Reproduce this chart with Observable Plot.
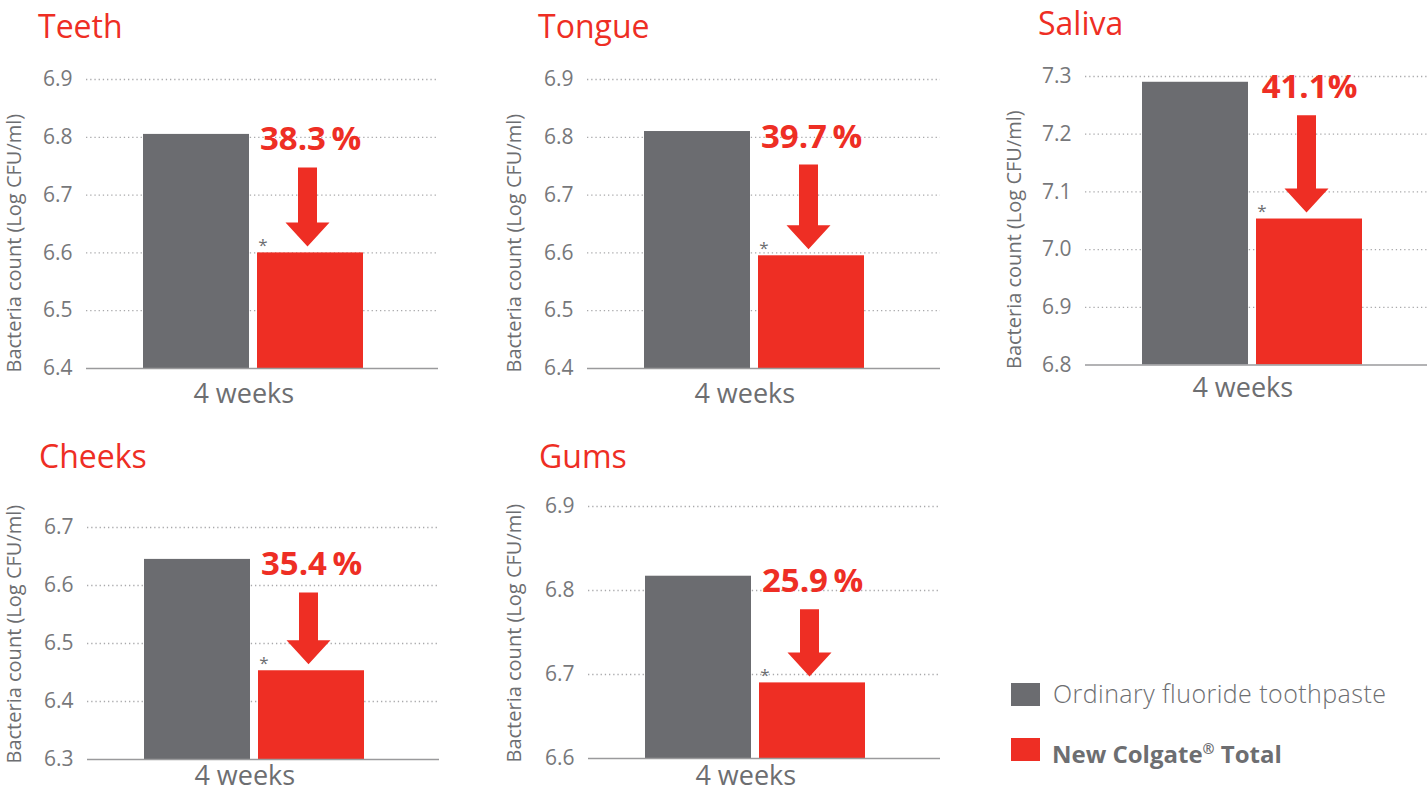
<!DOCTYPE html>
<html>
<head>
<meta charset="utf-8">
<script src="https://cdn.jsdelivr.net/npm/d3@7"></script>
<script src="https://cdn.jsdelivr.net/npm/@observablehq/plot@0.6"></script>
<style>
  html, body { margin: 0; padding: 0; background: #fff; overflow: hidden; }
  #root { position: relative; width: 1427px; height: 792px; overflow: hidden; font-family: "Open Sans", sans-serif; }
  .title { position: absolute; color: #ee2e24; font-size: 32px; line-height: 32px; white-space: nowrap; }
  .chart { position: absolute; width: 600px; }
  .chart svg { display: block; overflow: visible; max-width: none !important; }
  .legend-swatch { position: absolute; width: 29px; height: 23px; }
  .legend-text { position: absolute; color: #6d6e71; white-space: nowrap; }
</style>
</head>
<body>
<div id="root"></div>
<script>
// ---------- data ----------
const panels = ["Teeth", "Tongue", "Saliva", "Cheeks", "Gums"];
const series = ["Ordinary fluoride toothpaste", "New Colgate® Total"];
const ordinaryValues = [6.805, 6.81, 7.29, 6.645, 6.817];
const colgateValues = [6.6, 6.595, 7.053, 6.453, 6.69];
const reductionLabels = ["38.3\u2009%", "39.7\u2009%", "41.1%", "35.4\u2009%", "25.9\u2009%"];
const yTickLabels = [
  ["6.4", "6.5", "6.6", "6.7", "6.8", "6.9"],
  ["6.4", "6.5", "6.6", "6.7", "6.8", "6.9"],
  ["6.8", "6.9", "7.0", "7.1", "7.2", "7.3"],
  ["6.3", "6.4", "6.5", "6.6", "6.7"],
  ["6.6", "6.7", "6.8", "6.9"]
];
const timeLabel = "4 weeks";
const yAxisLabel = "Bacteria count (Log CFU/ml)";
const significanceMark = "*";

// ---------- styles / layout ----------
const colors = ["#6b6c70", "#ee2e24"];
const red = "#ee2e24";
const textGray = "#6d6e71";
const tickGray = "#77787b";
const layout = [
  {col: 0,    fl: 86,   fr: 438,  ft: 79,   fb: 368, tx: 38,   tb: 38,  xl: 34},
  {col: 500,  fl: 587,  fr: 940,  ft: 79,   fb: 368, tx: 538,  tb: 38,  xl: 34},
  {col: 1000, fl: 1085, fr: 1445, ft: 75.5, fb: 364, tx: 1038, tb: 35,  xl: 32},
  {col: 0,    fl: 87,   fr: 439,  ft: 527,  fb: 759, tx: 39,   tb: 468, xl: 25},
  {col: 500,  fl: 588,  fr: 940,  ft: 506,  fb: 758, tx: 539,  tb: 468, xl: 26}
];

const root = document.getElementById("root");
const FONT = "'Open Sans', sans-serif";

panels.forEach((name, i) => {
  const L = layout[i];
  const ticks = yTickLabels[i].map(Number);
  const y0 = ticks[0], y1 = ticks[ticks.length - 1];
  const mt = 20, mb = 50, mr = 4;
  const ml = L.fl - L.col;
  const width = L.fr + mr - L.col;
  const innerH = L.fb - L.ft;
  const height = innerH + mt + mb;
  const yPix = v => mt + (y1 - v) / (y1 - y0) * innerH;

  const rows = series.map((s, j) => ({series: s, value: j ? colgateValues[i] : ordinaryValues[i]}));
  const barStart = ml + 57;
  const barRange = [barStart, barStart + 220.5];
  const pairCenter = (barRange[0] + barRange[1]) / 2;
  const frameCenter = (ml + width - mr) / 2;

  // block arrow pointing down to the reduced bar
  const tipGap = 6.5;
  const arrowLen = (yPix(colgateValues[i]) - tipGap) - (yPix(ordinaryValues[i]) + 33);
  const arrowSymbol = {
    draw(ctx) {
      const hw = 22, hh = 24, sw = 9.5;
      ctx.moveTo(0, 0);
      ctx.lineTo(-hw, -hh);
      ctx.lineTo(-sw, -hh);
      ctx.lineTo(-sw, -arrowLen);
      ctx.lineTo(sw, -arrowLen);
      ctx.lineTo(sw, -hh);
      ctx.lineTo(hw, -hh);
      ctx.closePath();
    }
  };

  const plot = Plot.plot({
    width, height,
    marginLeft: ml, marginRight: mr, marginTop: mt, marginBottom: mb,
    style: {fontFamily: FONT, background: "transparent", overflow: "visible", maxWidth: "none"},
    x: {type: "band", domain: series, range: barRange, paddingInner: 0.07, paddingOuter: 0, axis: null},
    y: {domain: [y0, y1], axis: null},
    color: {domain: series, range: colors},
    marks: [
      Plot.gridY(ticks.slice(1), {stroke: "#a9a9ab", strokeOpacity: 1, strokeWidth: 1.3, strokeDasharray: "1.3,2.9"}),
      Plot.axisY(ticks, {tickSize: 0, tickPadding: 14, fontSize: 21, color: tickGray, label: null, tickFormat: d => d.toFixed(1)}),
      Plot.barY(rows, {x: "series", y1: y0, y2: "value", fill: "series"}),
      Plot.ruleY([y0], {stroke: "#9a9a9c", strokeWidth: 1.6}),
      Plot.text([yAxisLabel], {text: d => d, frameAnchor: "bottom-left", rotate: -90, textAnchor: "start",
        dx: 20 - ml, dy: 4, fontSize: 20, fill: textGray}),
      Plot.text([timeLabel], {text: d => d, frameAnchor: "bottom", dx: pairCenter - 10 - frameCenter, dy: L.xl,
        lineAnchor: "bottom", fontSize: 27, fill: textGray}),
      Plot.text([rows[1]], {x: "series", y: () => ordinaryValues[i], text: () => reductionLabels[i], dy: 16,
        lineAnchor: "bottom", fontSize: 33, fontWeight: "bold", fill: red}),
      Plot.text([rows[1]], {x: "series", y: "value", text: () => significanceMark, dx: -47.5, dy: -2,
        lineAnchor: "bottom", fontSize: 17, fill: textGray}),
      Plot.dot([rows[1]], {x: "series", y: "value", symbol: arrowSymbol, dx: -3, dy: -tipGap, fill: red, stroke: "none"})
    ]
  });

  const wrap = document.createElement("div");
  wrap.className = "chart";
  wrap.style.left = L.col + "px";
  wrap.style.top = (L.ft - mt) + "px";
  wrap.appendChild(plot);
  root.appendChild(wrap);

  const t = document.createElement("div");
  t.className = "title";
  t.textContent = name;
  t.style.left = L.tx + "px";
  t.style.top = (L.tb - 0.888 * 32) + "px";
  root.appendChild(t);
});

// ---------- legend ----------
const legendPos = [
  {sx: 1011, sy: 683, tx: 1053, tb: 703, w: 300, fs: 25, ls: 0.45},
  {sx: 1011, sy: 738, tx: 1052, tb: 758, w: 700, fs: 24, ls: 0}
];
series.forEach((s, j) => {
  const P = legendPos[j];
  const sw = document.createElement("div");
  sw.className = "legend-swatch";
  sw.style.left = P.sx + "px"; sw.style.top = P.sy + "px"; sw.style.background = colors[j];
  root.appendChild(sw);
  const tx = document.createElement("div");
  tx.className = "legend-text";
  tx.style.left = P.tx + "px";
  tx.style.fontSize = P.fs + "px"; tx.style.lineHeight = P.fs + "px";
  tx.style.letterSpacing = P.ls + "px";
  tx.style.top = (P.tb - 0.888 * P.fs) + "px";
  tx.style.fontWeight = P.w;
  if (s.includes("®")) {
    const [a, b] = s.split("®");
    tx.append(a);
    const sup = document.createElement("span");
    sup.textContent = "®";
    sup.style.fontSize = "0.6em"; sup.style.verticalAlign = "0.6em";
    tx.append(sup, b);
  } else tx.textContent = s;
  root.appendChild(tx);
});
</script>
</body>
</html>
